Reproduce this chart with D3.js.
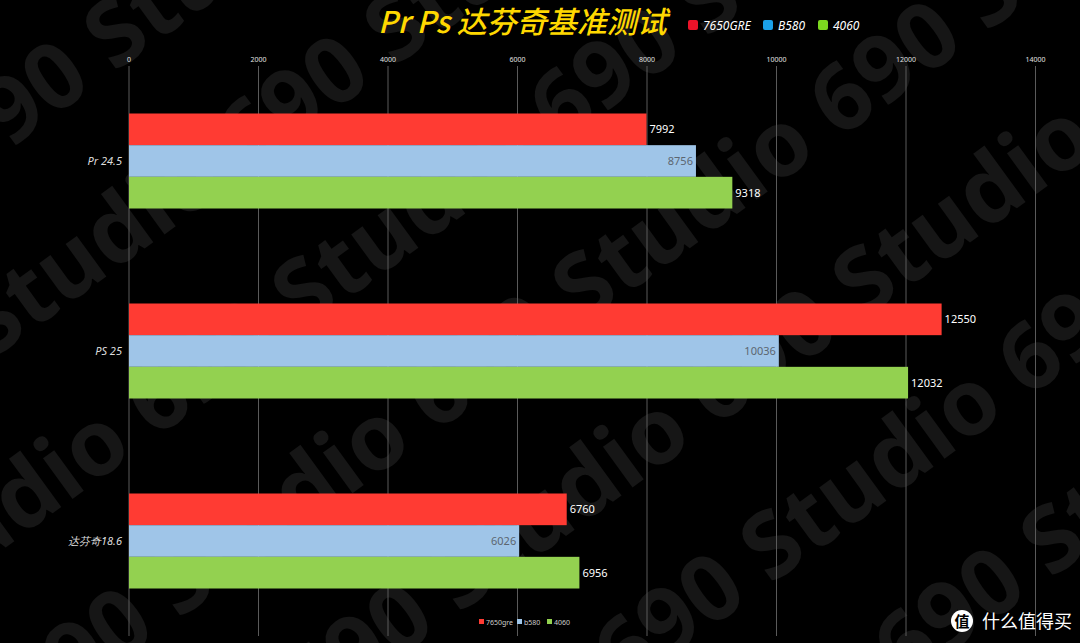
<!DOCTYPE html>
<meta charset="utf-8">
<body style="margin:0;background:#000;">
<div id="chart"></div>
<script src="https://cdn.jsdelivr.net/npm/d3@7"></script>
<script>
// data
const categories = ["Pr 24.5", "PS 25", "达芬奇18.6"];
const seriesNames = ["7650gre", "b580", "4060"];
const titleLegend = ["7650GRE", "B580", "4060"];
const v7650gre = [7992, 12550, 6760];
const vB580 = [8756, 10036, 6026];
const v4060 = [9318, 12032, 6956];
const xTicks = [0, 2000, 4000, 6000, 8000, 10000, 12000, 14000];

const width = 1080, height = 643;
const barColors = ["#ff3b33", "#9fc5e8", "#93d150"];
const legendColors = ["#ec1329", "#1ba0e8", "#7cd81f"];

const svg = d3.select("#chart").append("svg")
    .attr("width", width)
    .attr("height", height)
    .style("display", "block")
    .style("font-family", "'Noto Sans', sans-serif");

svg.append("rect").attr("width", width).attr("height", height).attr("fill", "#000");

svg.append("clipPath").attr("id", "page")
  .append("rect").attr("width", width).attr("height", height);

// watermark "690 Studio"
const wm = svg.append("g")
    .attr("clip-path", "url(#page)")
  .append("g")
    .attr("transform", "translate(540,320) rotate(-36)")
    .attr("fill", "#161616")
    .style("font-family", "'Noto Sans', sans-serif")
    .style("font-weight", "bold")
    .style("font-size", "92px");
d3.range(-4, 5).forEach(function (i) {
  wm.append("text")
    .attr("x", -1150 + (i % 2) * 230)
    .attr("y", i * 160 + 30)
    .text("690 Studio 690 Studio 690 Studio 690 Studio 690 Studio");
});

const x = d3.scaleLinear()
    .domain([0, 14000])
    .range([129, 1035.5]);

const y0 = d3.scaleBand()
    .domain(categories)
    .range([66, 636])
    .paddingInner(0.5)
    .paddingOuter(0.25);

const y1 = d3.scaleBand()
    .domain(seriesNames)
    .range([0, y0.bandwidth()]);

// grid lines
svg.append("g").selectAll("line")
    .data(xTicks)
    .join("line")
    .attr("x1", d => x(d)).attr("x2", d => x(d))
    .attr("y1", 66).attr("y2", 636)
    .attr("stroke", "#5a5a5a")
    .attr("stroke-width", 1);

// top axis labels
svg.append("g").selectAll("text")
    .data(xTicks)
    .join("text")
    .attr("x", d => x(d))
    .attr("y", 62)
    .attr("text-anchor", "middle")
    .attr("fill", "#e0e0e0")
    .style("font-size", "7px")
    .text(d => d);

const rows = categories.map((c, i) => ({cat: c, vals: [v7650gre[i], vB580[i], v4060[i]]}));

const groups = svg.append("g").selectAll("g")
    .data(rows)
    .join("g")
    .attr("transform", d => `translate(0,${y0(d.cat)})`);

groups.selectAll("rect")
    .data(d => d.vals.map((v, j) => ({v: v, s: seriesNames[j], j: j})))
    .join("rect")
    .attr("x", x(0))
    .attr("y", d => y1(d.s))
    .attr("width", d => x(d.v) - x(0))
    .attr("height", y1.bandwidth())
    .attr("fill", d => barColors[d.j]);

groups.selectAll("text.val")
    .data(d => d.vals.map((v, j) => ({v: v, s: seriesNames[j], j: j})))
    .join("text")
    .attr("class", "val")
    .attr("x", d => d.j === 1 ? x(d.v) - 3 : x(d.v) + 3)
    .attr("y", d => y1(d.s) + y1.bandwidth() / 2)
    .attr("dy", "0.35em")
    .attr("text-anchor", d => d.j === 1 ? "end" : "start")
    .attr("fill", d => d.j === 1 ? "#5c6670" : "#ffffff")
    .style("font-size", "11px")
    .text(d => d.v);

// category labels
svg.append("g").selectAll("text")
    .data(categories)
    .join("text")
    .attr("x", 122)
    .attr("y", d => y0(d) + y0.bandwidth() / 2)
    .attr("dy", "0.35em")
    .attr("text-anchor", "end")
    .attr("fill", "#dddddd")
    .style("font-size", "11px")
    .style("font-style", "italic")
    .text(d => d);

// title
svg.append("text")
    .attr("x", 378)
    .attr("y", 33)
    .attr("fill", "#ffd800")
    .style("font-family", "'Noto Sans CJK SC', sans-serif")
    .style("font-weight", "500")
    .style("font-style", "italic")
    .style("font-size", "30px")
    .text("Pr Ps 达芬奇基准测试");

// title legend
const tl = svg.append("g");
const tlX = [688, 763, 818];
titleLegend.forEach(function (name, i) {
  tl.append("rect")
    .attr("x", tlX[i]).attr("y", 20)
    .attr("width", 10).attr("height", 10).attr("rx", 2)
    .attr("fill", legendColors[i]);
  tl.append("text")
    .attr("x", tlX[i] + 15).attr("y", 29.5)
    .attr("fill", "#ffffff")
    .style("font-size", "12px")
    .style("font-style", "italic")
    .text(name);
});

// bottom legend
const bl = svg.append("g");
const blX = [479, 517, 547];
seriesNames.forEach(function (name, i) {
  bl.append("rect")
    .attr("x", blX[i]).attr("y", 619)
    .attr("width", 5).attr("height", 5)
    .attr("fill", barColors[i]);
  bl.append("text")
    .attr("x", blX[i] + 7).attr("y", 625)
    .attr("fill", "#cccccc")
    .style("font-size", "7px")
    .text(name);
});

// site logo
svg.append("circle").attr("cx", 962).attr("cy", 621).attr("r", 11).attr("fill", "#fff");
svg.append("text")
    .attr("x", 962).attr("y", 626.5)
    .attr("text-anchor", "middle")
    .attr("fill", "#000")
    .style("font-family", "'Noto Sans CJK SC', sans-serif")
    .style("font-weight", "bold")
    .style("font-size", "15px")
    .text("值");
svg.append("text")
    .attr("x", 982).attr("y", 628)
    .attr("fill", "#fff")
    .style("font-family", "'Noto Sans CJK SC', sans-serif")
    .style("font-size", "18px")
    .text("什么值得买");
</script>
</body>
